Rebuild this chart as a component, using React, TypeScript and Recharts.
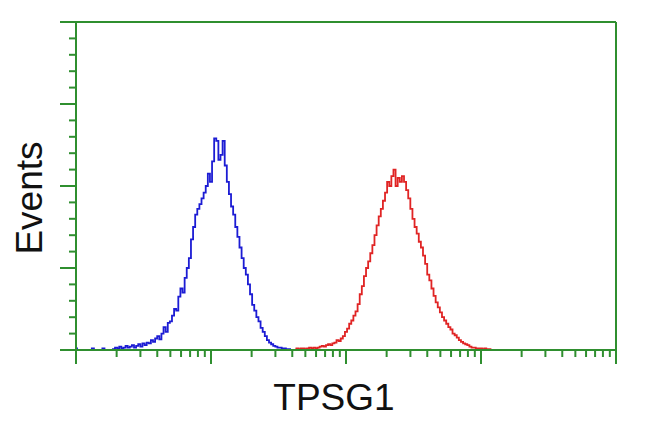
import { LineChart, Line, XAxis, YAxis, ReferenceLine } from "recharts";

// histogram channels, 64 per decade over 4 decades (1 .. 10^4)
const CHANNELS_PER_DECADE = 64;

const BLUE_START = 0;
const BLUE_COUNTS = [
  2, 0, 0, 0, 0, 0, 0, 0, 2, 0, 0, 0, 0, 2, 0, 0, 0, 0, 1, 3,
  2, 4, 2, 3, 5, 3, 4, 6, 3, 5, 7, 4, 8, 6, 9, 8, 12, 10, 14, 17,
  13, 20, 28, 22, 33, 35, 42, 50, 48, 65, 75, 70, 88, 100, 112, 135, 150, 165, 172, 178,
  185, 192, 200, 215, 205, 230, 258, 255, 232, 238, 255, 225, 205, 190, 175, 165, 150, 138, 125, 112,
  100, 92, 80, 68, 55, 48, 40, 35, 27, 22, 17, 12, 9, 7, 5, 4, 3, 3, 2, 2,
  1, 1, 0,
];

const RED_START = 104;
const RED_COUNTS = [
  1, 2, 1, 2, 2, 1, 2, 3, 2, 3, 2, 3, 4, 5, 4, 6, 7, 6, 8, 9,
  12, 11, 14, 17, 22, 26, 32, 36, 42, 47, 56, 68, 78, 90, 100, 108, 118, 128, 140, 152,
  163, 172, 182, 192, 205, 200, 212, 220, 200, 210, 205, 212, 205, 195, 185, 172, 160, 150, 142, 132,
  125, 115, 105, 92, 85, 75, 66, 58, 52, 46, 40, 36, 32, 28, 25, 20, 18, 15, 12, 10,
  8, 7, 6, 4, 3, 3, 2, 2, 2, 1, 2, 1, 1, 0,
];

const X_MAJOR = [1, 10, 100, 1000, 10000];
const X_TICKS = [
  1, 2, 3, 4, 5, 6, 7, 8, 9,
  10, 20, 30, 40, 50, 60, 70, 80, 90,
  100, 200, 300, 400, 500, 600, 700, 800, 900,
  1000, 2000, 3000, 4000, 5000, 6000, 7000, 8000, 9000,
  10000,
];
const Y_MAJOR = [0, 100, 200, 300, 400];
const Y_TICKS = [
  0, 20, 40, 60, 80, 100, 120, 140, 160, 180, 200,
  220, 240, 260, 280, 300, 320, 340, 360, 380, 400,
];

const toRows = (start: number, counts: number[]) =>
  counts.map((c, i) => ({ x: 10 ** ((start + i) / CHANNELS_PER_DECADE), y: c }));

const blueData = toRows(BLUE_START, BLUE_COUNTS);
const redData = toRows(RED_START, RED_COUNTS);

const GREEN = "#2f8f2f";

const XTick = (props: any) => {
  const { x, y, payload } = props;
  const len = X_MAJOR.includes(payload.value) ? 14 : 7;
  return <line x1={x} x2={x} y1={y} y2={y + len} stroke={GREEN} strokeWidth={2} />;
};

const YTick = (props: any) => {
  const { x, y, payload } = props;
  const len = Y_MAJOR.includes(payload.value) ? 16 : 7;
  return <line x1={x - len} x2={x} y1={y} y2={y} stroke={GREEN} strokeWidth={2} />;
};

export default function App() {
  return (
    <div style={{ position: "absolute", left: 0, top: 0, width: 650, height: 432, background: "#fff" }}>
      <LineChart
        width={650}
        height={432}
        margin={{ top: 22, right: 34, bottom: 81, left: 75 }}
      >
        <XAxis
          dataKey="x"
          type="number"
          scale="log"
          domain={[1, 10000]}
          allowDataOverflow
          ticks={X_TICKS}
          interval={0}
          height={1}
          tickSize={0}
          tickMargin={0}
          tickLine={false}
          tick={XTick}
          axisLine={{ stroke: GREEN, strokeWidth: 2 }}
        />
        <YAxis
          type="number"
          domain={[0, 400]}
          ticks={Y_TICKS}
          interval={0}
          width={1}
          tickSize={0}
          tickMargin={0}
          tickLine={false}
          tick={YTick}
          axisLine={{ stroke: GREEN, strokeWidth: 2 }}
        />
        <ReferenceLine y={400} stroke={GREEN} strokeWidth={2} />
        <ReferenceLine x={10000} stroke={GREEN} strokeWidth={2} />
        <Line
          data={blueData}
          dataKey="y"
          type="step"
          stroke="#1c1cd4"
          strokeWidth={1.8}
          dot={false}
          isAnimationActive={false}
        />
        <Line
          data={redData}
          dataKey="y"
          type="step"
          stroke="#e02424"
          strokeWidth={1.8}
          dot={false}
          isAnimationActive={false}
        />
      </LineChart>
      <svg
        width={650}
        height={432}
        style={{ position: "absolute", left: 0, top: 0, pointerEvents: "none" }}
      >
        <text
          transform="translate(42,198) rotate(-90)"
          textAnchor="middle"
          fontFamily="'Liberation Sans', Arial, sans-serif"
          fontSize={37}
          fill="#111"
        >
          Events
        </text>
        <text
          x={334}
          y={410}
          textAnchor="middle"
          fontFamily="'Liberation Sans', Arial, sans-serif"
          fontSize={37}
          fill="#111"
        >
          TPSG1
        </text>
      </svg>
    </div>
  );
}
